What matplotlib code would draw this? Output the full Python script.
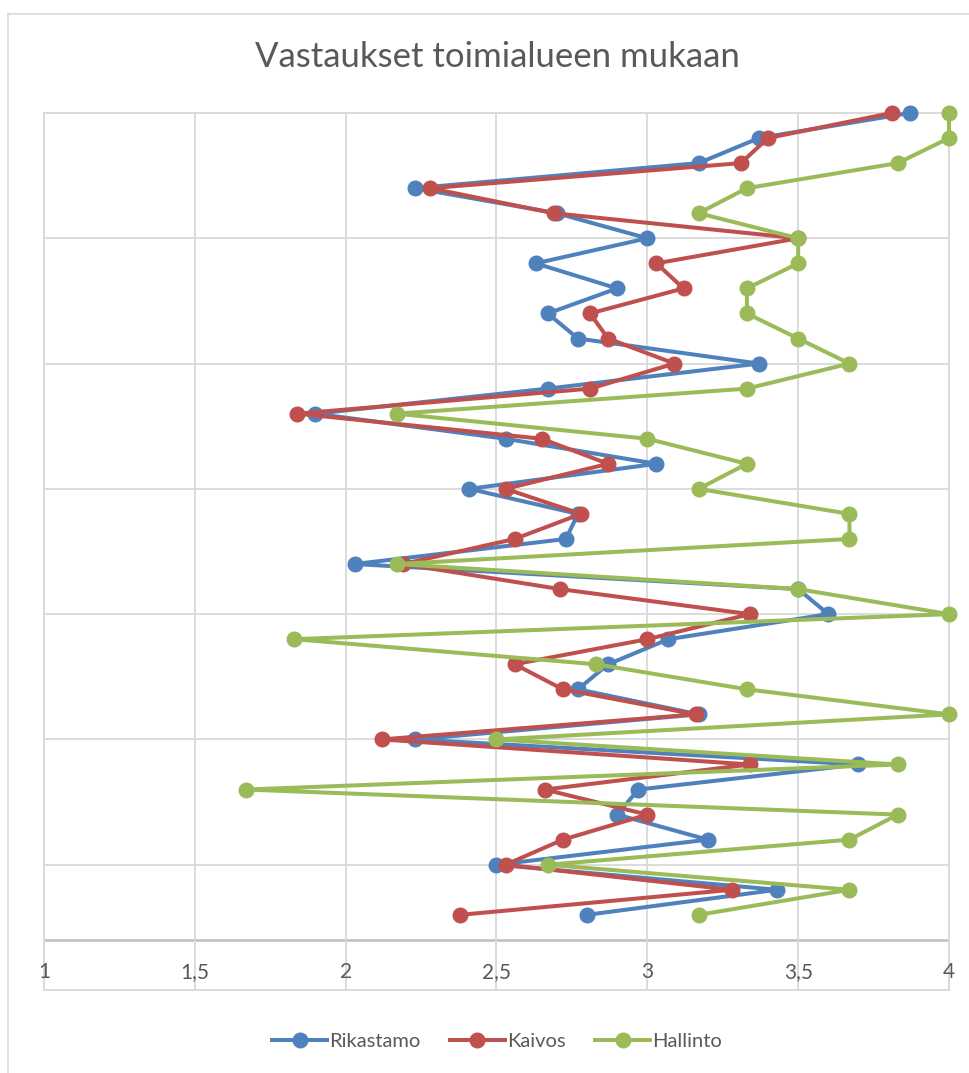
import numpy as np
import matplotlib
matplotlib.use("Agg")
import matplotlib.pyplot as plt
from matplotlib.lines import Line2D

plt.rcParams["font.family"] = ["Lato", "DejaVu Sans"]

# values, top row first
rikastamo = [3.87, 3.37, 3.17, 2.23, 2.70, 3.00, 2.63, 2.90, 2.67, 2.77, 3.37,
             2.67, 1.90, 2.53, 3.03, 2.41, 2.77, 2.73, 2.03, 3.50, 3.60, 3.07,
             2.87, 2.77, 3.17, 2.23, 3.70, 2.97, 2.90, 3.20, 2.50, 3.43, 2.80]
kaivos = [3.81, 3.40, 3.31, 2.28, 2.69, 3.50, 3.03, 3.12, 2.81, 2.87, 3.09,
          2.81, 1.84, 2.65, 2.87, 2.53, 2.78, 2.56, 2.19, 2.71, 3.34, 3.00,
          2.56, 2.72, 3.16, 2.12, 3.34, 2.66, 3.00, 2.72, 2.53, 3.28, 2.38]
hallinto = [4.00, 4.00, 3.83, 3.33, 3.17, 3.50, 3.50, 3.33, 3.33, 3.50, 3.67,
            3.33, 2.17, 3.00, 3.33, 3.17, 3.67, 3.67, 2.17, 3.50, 4.00, 1.83,
            2.83, 3.33, 4.00, 2.50, 3.83, 1.67, 3.83, 3.67, 2.67, 3.67, 3.17]

series_names = ["Rikastamo", "Kaivos", "Hallinto"]
series_colors = ["#4F81BD", "#C0504D", "#9BBB59"]
x_ticks = [1, 1.5, 2, 2.5, 3, 3.5, 4]
x_labels = ["1", "1,5", "2", "2,5", "3", "3,5", "4"]
title = "Vastaukset toimialueen mukaan"

W, H = 969, 1073
fig = plt.figure(figsize=(W / 100, H / 100), dpi=100)

# plot area in pixels
left, right, top, bottom = 44, 949, 113, 990
ax = fig.add_axes([left / W, 1 - bottom / H, (right - left) / W, (bottom - top) / H])

rows = np.arange(len(rikastamo))
for vals, name, col in zip([rikastamo, kaivos, hallinto], series_names, series_colors):
    ax.plot(vals, rows, color=col, lw=2.9, marker="o", markersize=10.5,
            label=name, solid_joinstyle="round", zorder=3, clip_on=False)

ax.set_xlim(1, 4)
ax.set_ylim(35, 0)
ax.set_xticks(x_ticks)
ax.set_yticks(np.arange(0, 36, 5))
ax.tick_params(length=0, labelbottom=False, labelleft=False)
ax.grid(True, color="#D9D9D9", lw=1.3, zorder=0)
for s in ax.spines.values():
    s.set_color("#D9D9D9")
    s.set_linewidth(1.3)

# horizontal axis line and its labels
ax.axhline(33, color="#BFBFBF", lw=1.8, zorder=1)
for xv, lab in zip(x_ticks, x_labels):
    ax.text(xv, 34.3, lab, ha="center", va="center", fontsize=15, color="#595959")

fig.text(497 / W, 1 - 57 / H, title, ha="center", va="center",
         fontsize=25, color="#595959")

leg = fig.legend(loc="center", bbox_to_anchor=(497 / W, 1 - 1041 / H), ncol=3,
                 frameon=False, fontsize=14.5, handlelength=2.7, columnspacing=1.5,
                 handletextpad=0.1)
for t in leg.get_texts():
    t.set_color("#595959")

# chart border
fig.add_artist(Line2D([8 / W, 1], [1 - 14 / H, 1 - 14 / H], color="#D9D9D9", lw=1.2))
fig.add_artist(Line2D([8 / W, 8 / W], [1 - 14 / H, 0], color="#D9D9D9", lw=1.2))

fig.savefig("out.png", dpi=100)
